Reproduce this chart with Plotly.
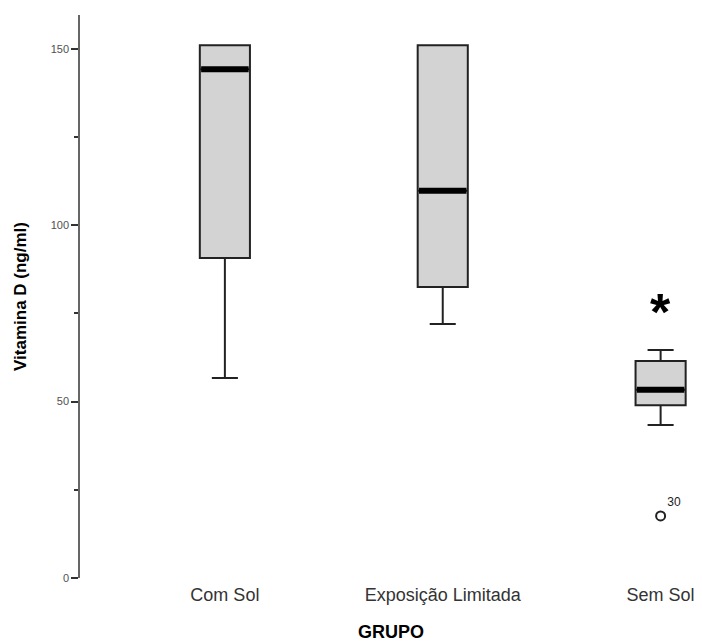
import plotly.graph_objects as go

# ---- data ----
groups = ["Com Sol", "Exposição Limitada", "Sem Sol"]
q1 = [90.7, 82.5, 49.0]
median = [144.2, 109.8, 53.4]
q3 = [151.0, 151.0, 61.5]
lower_whisker = [56.7, 72.0, 43.4]
upper_whisker = [151.0, 151.0, 64.6]
extreme_group = [2]
extreme_value = [77.5]
outlier_group = [2]
outlier_value = [17.6]
outlier_label = ["30"]

box_w = 0.23
fig = go.Figure()
for i, g in enumerate(groups):
    fig.add_trace(go.Box(
        x=[i], q1=[q1[i]], median=[median[i]], q3=[q3[i]],
        lowerfence=[lower_whisker[i]], upperfence=[upper_whisker[i]],
        width=box_w, whiskerwidth=0.52,
        fillcolor="#d3d3d3", line=dict(color="#222222", width=2),
        boxpoints=False, showlegend=False, hoverinfo="skip"))
    # thick median bar
    fig.add_trace(go.Scatter(
        x=[i - box_w / 2 + 0.006, i + box_w / 2 - 0.006], y=[median[i], median[i]],
        mode="lines", line=dict(color="black", width=6),
        showlegend=False, hoverinfo="skip"))

# extreme value marked with an asterisk
for gx, vy in zip(extreme_group, extreme_value):
    fig.add_annotation(x=gx, y=vy, text="<b>*</b>", showarrow=False,
                       font=dict(family="Arial", size=52, color="black"),
                       xanchor="center", yanchor="middle", yshift=-7)

fig.add_trace(go.Scatter(
    x=outlier_group, y=outlier_value, mode="markers+text", text=outlier_label,
    marker=dict(symbol="circle-open", size=9, color="#222222", line=dict(width=2)),
    textposition="top right", textfont=dict(family="Arial", size=12, color="#222222"),
    showlegend=False, hoverinfo="skip"))

fig.update_layout(
    template="none",
    width=702, height=643,
    margin=dict(l=80, r=0, t=15, b=65),
    plot_bgcolor="white", paper_bgcolor="white",
    font=dict(family="Arial"),
    xaxis=dict(
        range=[-0.665, 2.19], tickvals=list(range(len(groups))), ticktext=groups,
        showline=False, showgrid=False, zeroline=False, ticks="",
        tickfont=dict(size=18, color="#333333"), ticklabelstandoff=4,
        title=dict(text="<b>GRUPO</b>", font=dict(size=18, color="black"), standoff=21)),
    yaxis=dict(
        range=[0, 159.6], tickvals=[0, 50, 100, 150],
        showline=True, linecolor="#666666", linewidth=1.5,
        showgrid=False, zeroline=False,
        ticks="outside", ticklen=7, tickwidth=1.5, tickcolor="#333333",
        tickfont=dict(size=11, color="#505050"),
        minor=dict(tickvals=[25, 75, 125], ticks="outside", ticklen=4, tickwidth=1.5, tickcolor="#333333"),
        title=dict(text="<b>Vitamina D (ng/ml)</b>", font=dict(size=17, color="black"), standoff=20)),
)

fig.write_html("out.html")
